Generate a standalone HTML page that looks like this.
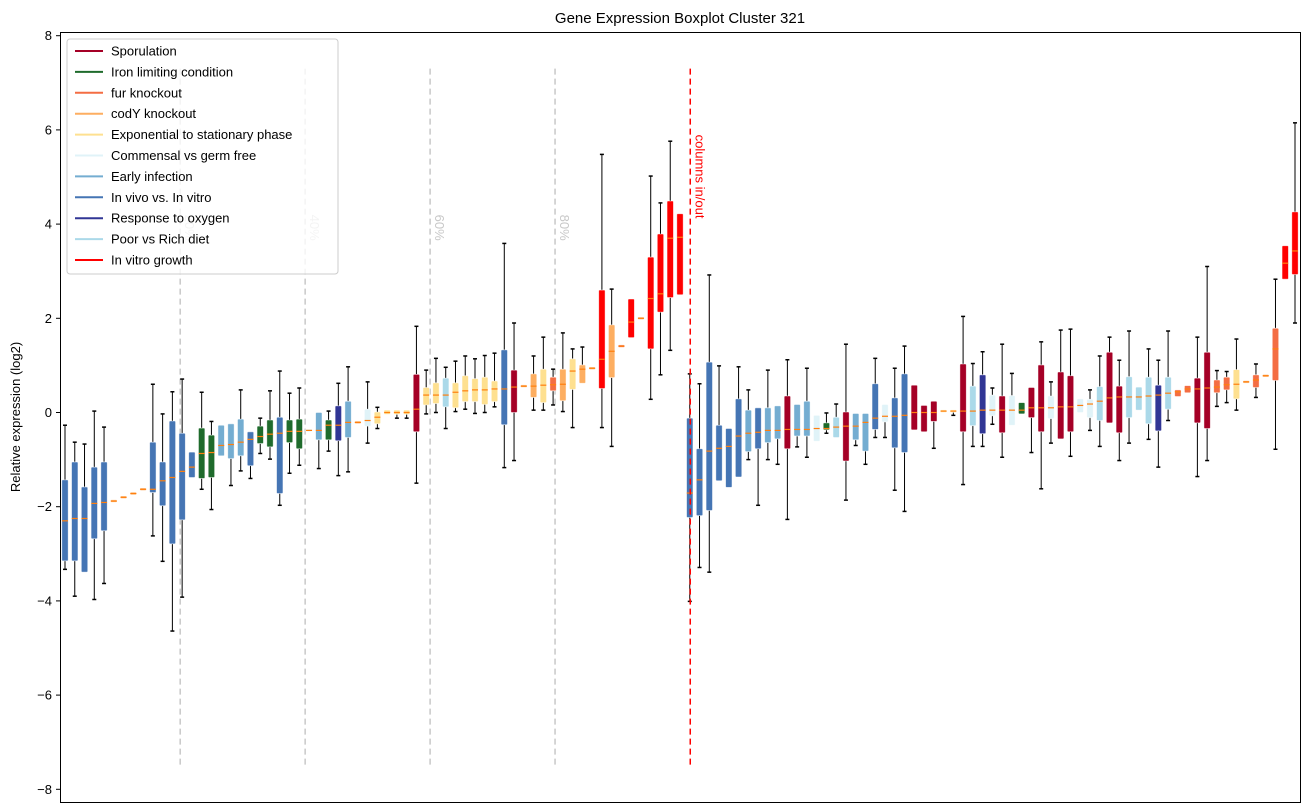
<!DOCTYPE html>
<html><head><meta charset="utf-8"><style>
body{margin:0;background:#fff;}
svg{display:block;font-family:"Liberation Sans",sans-serif;}
</style></head><body>
<svg id="chart" width="1309" height="812" xmlns="http://www.w3.org/2000/svg">
<rect x="0" y="0" width="1309" height="812" fill="#fff"/>
<text x="680" y="23" text-anchor="middle" font-size="15">Gene Expression Boxplot Cluster 321</text>
<text transform="translate(20,417) rotate(-90)" text-anchor="middle" font-size="13">Relative expression (log2)</text>
<g id="axes"></g>
<g id="guides"></g>
<g id="boxes"></g>
<rect x="60.5" y="32.5" width="1240" height="770" fill="none" stroke="#000" stroke-width="1"/>
<g id="legend"></g>
</svg>
<script>
const whiskerTop=[-0.27,-0.63,-0.67,0.03,-0.31,-1.88,-1.80,-1.72,-1.63,0.60,-0.03,0.44,0.71,-0.84,0.43,-0.19,-0.27,-0.24,0.48,-0.41,-0.12,0.46,0.88,0.41,0.52,-0.38,0.00,0.03,0.62,0.97,-0.21,0.65,0.11,0.05,0.05,0.05,1.83,
0.90,1.15,0.96,1.09,1.20,1.14,1.21,1.26,3.59,1.90,0.56,1.20,1.60,0.92,1.69,1.35,1.39,0.94,5.48,2.62,1.41,2.41,2.00,5.02,4.45,5.76,4.22,
0.82,0.61,2.92,0.99,-0.34,0.97,0.48,0.10,0.90,0.14,1.12,0.17,0.94,-0.06,-0.01,0.18,1.45,-0.02,-0.02,1.15,0.17,0.94,1.41,0.58,0.15,0.24,0.03,0.03,2.04,1.04,1.29,0.52,
1.45,0.83,0.21,0.53,1.50,0.65,1.75,1.77,0.29,0.48,1.20,1.60,1.11,1.73,0.54,1.35,1.11,1.73,0.48,0.57,1.60,3.10,0.89,0.87,1.56,0.65,1.03,0.78,2.83,3.54,6.15];
const q3Values=[-1.43,-1.05,-1.58,-1.16,-1.05,-1.88,-1.80,-1.72,-1.63,-0.63,-1.05,-0.18,-0.44,-0.84,-0.33,-0.48,-0.27,-0.24,-0.14,-0.41,-0.29,-0.16,-0.10,-0.16,-0.14,-0.38,0.00,-0.16,0.14,0.24,-0.21,0.07,0.01,0.05,0.05,0.05,0.81,
0.53,0.63,0.73,0.63,0.78,0.72,0.75,0.67,1.33,0.90,0.56,0.82,0.92,0.75,0.92,1.14,1.01,0.94,2.60,1.86,1.41,2.41,2.00,3.30,3.79,4.49,4.22,
-0.12,-0.77,1.07,-0.27,-0.34,0.29,0.05,0.10,0.10,0.14,0.35,0.17,0.24,-0.06,-0.22,-0.10,0.01,-0.02,-0.02,0.61,0.17,0.31,0.82,0.58,0.15,0.24,0.03,0.03,1.03,0.56,0.80,0.37,
0.35,0.36,0.21,0.53,1.01,0.35,0.86,0.78,0.29,0.28,0.55,1.28,0.56,0.76,0.54,0.75,0.58,0.75,0.48,0.57,0.73,1.28,0.69,0.75,0.91,0.65,0.80,0.78,1.79,3.54,4.26];
const medianValues=[-2.30,-2.25,-2.25,-1.93,-1.91,-1.88,-1.80,-1.72,-1.63,-1.63,-1.45,-1.38,-1.25,-1.16,-0.87,-0.85,-0.70,-0.68,-0.63,-0.57,-0.51,-0.46,-0.44,-0.40,-0.40,-0.38,-0.38,-0.27,-0.27,-0.21,-0.21,-0.17,-0.10,0.00,0.00,0.00,0.07,
0.37,0.37,0.37,0.43,0.46,0.48,0.48,0.50,0.50,0.54,0.56,0.56,0.58,0.59,0.60,0.88,0.92,0.94,1.13,1.30,1.41,1.92,2.00,2.42,2.52,3.70,3.72,
-1.71,-1.43,-0.82,-0.76,-0.72,-0.50,-0.44,-0.42,-0.38,-0.38,-0.36,-0.36,-0.36,-0.34,-0.34,-0.31,-0.29,-0.29,-0.21,-0.12,-0.08,-0.08,-0.06,0.00,0.00,0.00,0.03,0.03,0.03,0.03,0.05,0.05,
0.05,0.05,0.05,0.10,0.10,0.10,0.12,0.12,0.15,0.18,0.24,0.31,0.33,0.33,0.33,0.35,0.37,0.41,0.44,0.50,0.50,0.52,0.54,0.59,0.60,0.65,0.69,0.78,1.35,3.17,3.43];
const q1Values=[-3.15,-3.15,-3.39,-2.68,-2.51,-1.88,-1.80,-1.72,-1.63,-1.70,-1.98,-2.79,-2.28,-1.38,-1.40,-1.38,-0.92,-0.98,-0.92,-1.13,-0.66,-0.73,-1.72,-0.64,-0.77,-0.38,-0.58,-0.58,-0.60,-0.53,-0.21,-0.29,-0.24,-0.04,-0.04,-0.04,-0.41,
0.16,0.19,0.12,0.10,0.23,0.23,0.17,0.23,-0.26,0.00,0.56,0.32,0.21,0.46,0.25,0.49,0.62,0.94,0.51,0.74,1.41,1.59,2.00,1.35,2.13,2.44,2.50,
-2.23,-2.19,-2.08,-1.45,-1.59,-1.37,-0.83,-0.77,-0.64,-0.56,-0.77,-0.50,-0.50,-0.61,-0.37,-0.53,-1.03,-0.58,-0.82,-0.36,-0.20,-0.75,-0.85,-0.37,-0.41,-0.19,0.03,0.03,-0.41,-0.28,-0.45,-0.07,
-0.43,-0.27,-0.03,-0.11,-0.41,-0.13,-0.56,-0.41,0.00,-0.11,-0.17,-0.22,-0.43,-0.11,0.05,-0.24,-0.39,0.07,0.34,0.42,-0.22,-0.34,0.42,0.48,0.29,0.65,0.53,0.78,0.68,2.83,2.93];
const whiskerBottom=[-3.33,-3.90,-3.39,-3.97,-3.63,-1.88,-1.80,-1.72,-1.63,-2.62,-3.16,-4.64,-3.92,-1.38,-1.63,-2.06,-0.92,-1.55,-1.24,-1.40,-0.87,-0.99,-1.97,-1.29,-1.12,-0.38,-1.19,-0.82,-1.34,-1.26,-0.21,-0.65,-0.34,-0.04,-0.12,-0.12,-1.50,
-0.03,0.00,-0.34,0.02,0.07,-0.02,0.00,0.12,-1.17,-1.02,0.56,0.05,0.05,0.16,0.02,-0.32,0.62,0.94,-0.32,-0.72,1.41,1.59,2.00,0.28,0.80,1.32,2.50,
-4.01,-3.29,-3.39,-1.45,-1.59,-1.37,-1.00,-1.97,-1.00,-1.10,-2.27,-0.73,-0.95,-0.61,-0.44,-0.53,-1.86,-0.70,-1.10,-0.53,-0.53,-1.65,-2.10,-0.37,-0.41,-0.76,0.03,-0.06,-1.53,-0.72,-0.72,-0.25,
-0.95,-0.27,-0.03,-0.85,-1.62,-0.65,-0.56,-0.93,0.00,-0.38,-0.72,-0.22,-1.02,-0.65,0.05,-0.57,-1.16,-0.17,0.34,0.42,-1.36,-1.02,0.13,0.21,0.05,0.65,0.32,0.78,-0.78,2.83,1.90];
const boxGroups="BBBBBOOOOBBBBBGGLLLBGGBGGVLGNLOVYYYYC"+"YYPYYYYYBCOOYROYOOROROORRRR"+"BBBBBBLBLLCLLVGPCLLBVBBCCCYYCPNV"+"CVGCCVCCVVPCCPPPNPRRCCRRYORORCRR";
const groupColor={B:"#4575b4",G:"#1f6b2c",L:"#74add1",N:"#313695",V:"#e0f3f8",Y:"#fee090",O:"#fdae61",R:"#f46d43",C:"#a50026",P:"#abd9e9"};
const legendLabels=["Sporulation","Iron limiting condition","fur knockout","codY knockout","Exponential to stationary phase","Commensal vs germ free","Early infection","In vivo vs. In vitro","Response to oxygen","Poor vs Rich diet","In vitro growth"];
const legendColors=["#a50026","#1f6b2c","#f46d43","#fdae61","#fee090","#e0f3f8","#74add1","#4575b4","#313695","#abd9e9","#ff0000"];
const yTicks=[8,6,4,2,0,-2,-4,-6,-8];
const guidePositions=[12.8,25.6,38.4,51.2];
const guideLabels=["20%","40%","60%","80%"];
const splitPosition=65.05;

const NS="http://www.w3.org/2000/svg";
const nBoxes=medianValues.length;
function xs(p){return 65+(p-1)*(1230/126);}
function ys(v){return 412.5-v*47.1;}
function mk(tag,attrs,parent){const e=document.createElementNS(NS,tag);for(const k in attrs)e.setAttribute(k,attrs[k]);parent.appendChild(e);return e;}
function colorFor(i){
  const ch=boxGroups[i];
  const redIdx=[55,58,60,61,62,63,125,126];
  if(redIdx.includes(i))return "#ff0000";
  return groupColor[ch]||"#4575b4";
}
const axes=document.getElementById('axes');
yTicks.forEach(t=>{
  const y=ys(t);
  const tk=mk('line',{x1:56,x2:60,y1:y,y2:y,stroke:'#000'},axes);
  
  
  const lb=mk('text',{x:52,y:y+4.5,'text-anchor':'end','font-size':13},axes);
  lb.textContent=(t<0?'\u2212':'')+Math.abs(t);
  
  
});
const guides=document.getElementById('guides');
guidePositions.forEach((p,i)=>{
  const x=xs(p);
  const l=mk('line',{x1:x,x2:x,y1:ys(7.3),y2:ys(-7.5),stroke:'#c8c8c8','stroke-width':1.5,'stroke-dasharray':'6,4'},guides);
  
  
  const t=mk('text',{transform:`translate(${x+5},${ys(4.2)}) rotate(90)`,'font-size':13,fill:'#c8c8c8'},guides);
  t.textContent=guideLabels[i];
  
  
});
const boxes=document.getElementById('boxes');
for(let i=0;i<nBoxes;i++){
  const x=xs(i+1);
  const g=mk('g',{},boxes);
  
  
  const col=colorFor(i);
  const yt=ys(whiskerTop[i]),y3=ys(q3Values[i]),ym=ys(medianValues[i]),y1=ys(q1Values[i]),yb=ys(whiskerBottom[i]);
  if(yt<y3-0.5){mk('line',{x1:x,x2:x,y1:yt,y2:y3,stroke:'#000','stroke-width':1},g);mk('line',{x1:x-2,x2:x+2,y1:yt,y2:yt,stroke:'#000','stroke-width':1.5},g);}
  if(yb>y1+0.5){mk('line',{x1:x,x2:x,y1:y1,y2:yb,stroke:'#000','stroke-width':1},g);mk('line',{x1:x-2,x2:x+2,y1:yb,y2:yb,stroke:'#000','stroke-width':1.5},g);}
  const h=Math.max(y1-y3,2.5);
  mk('rect',{x:x-3.2,y:(y3+y1)/2-h/2,width:6.4,height:h,fill:col,stroke:'#fff','stroke-opacity':0.6,'stroke-width':0.8,rx:1},g);
  mk('line',{x1:x-3,x2:x+3,y1:ym,y2:ym,stroke:'#ff7f0e','stroke-width':1.2},g);
}
const sx=xs(splitPosition);
const sl=mk('line',{x1:sx,x2:sx,y1:ys(7.3),y2:ys(-7.5),stroke:'#ff0000','stroke-width':1.5,'stroke-dasharray':'6,4'},boxes);


const st=mk('text',{transform:`translate(${sx+5},${ys(5.9)}) rotate(90)`,'font-size':13,fill:'#ff0000'},boxes);
st.textContent='columns in/out';


const lg=document.getElementById('legend');
const lbox=mk('rect',{x:67,y:39,width:271,height:235,rx:3,fill:'#fff','fill-opacity':0.8,stroke:'#ccc'},lg);


legendLabels.forEach((lab,i)=>{
  const y=51+i*20.9;
  const ln=mk('line',{x1:75,x2:103,y1:y,y2:y,stroke:legendColors[i],'stroke-width':2},lg);
  
  
  const t=mk('text',{x:111,y:y+4.5,'font-size':13},lg);
  t.textContent=lab;
  
  
});
</script>
</body></html>
